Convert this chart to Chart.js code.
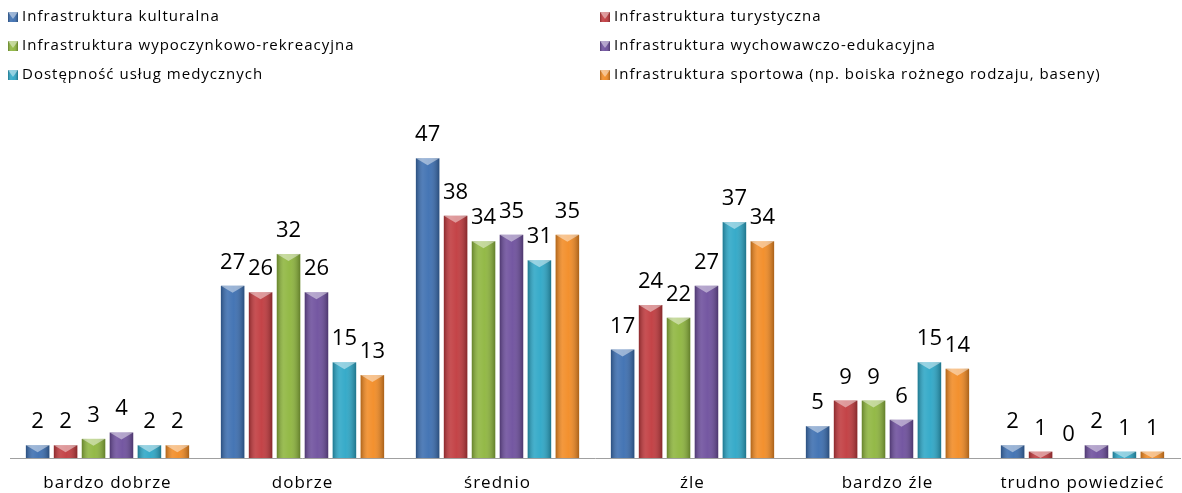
<!DOCTYPE html>
<html lang="pl">
<head>
<meta charset="UTF-8">
<title>Ocena infrastruktury</title>
<style>
html, body { margin: 0; padding: 0; background: #fff; }
#wrap { width: 1182px; height: 493px; }
</style>
</head>
<body>
<div id="wrap"><canvas id="myChart"></canvas></div>

<script src="https://cdn.jsdelivr.net/npm/chart.js"></script>
<script>
const categories = ['bardzo dobrze', 'dobrze', 'średnio', 'źle', 'bardzo źle', 'trudno powiedzieć'];
const seriesNames = [
    'Infrastruktura kulturalna',
    'Infrastruktura turystyczna',
    'Infrastruktura wypoczynkowo-rekreacyjna',
    'Infrastruktura wychowawczo-edukacyjna',
    'Dostępność usług medycznych',
    'Infrastruktura sportowa (np. boiska rożnego rodzaju, baseny)'
];
const kulturalna   = [2, 27, 47, 17, 5, 2];
const turystyczna  = [2, 26, 38, 24, 9, 1];
const wypoczynkowa = [3, 32, 34, 22, 9, 0];
const wychowawcza  = [4, 26, 35, 27, 6, 2];
const medyczne     = [2, 15, 31, 37, 15, 1];
const sportowa     = [2, 13, 35, 34, 14, 1];
const colors = ['#3a6db0', '#c0383c', '#8db53c', '#6c4d9c', '#2ba6c6', '#f28a22'];

const FONT = '"Open Sans", "Noto Sans", sans-serif';

// połysk + trójkątny "ścięty" wierzch słupka
function shade(ctx, x, top, w, h){
    let g = ctx.createLinearGradient(x, 0, x + w, 0);
    g.addColorStop(0, 'rgba(0,0,0,0.28)');
    g.addColorStop(0.3, 'rgba(255,255,255,0.12)');
    g.addColorStop(0.55, 'rgba(255,255,255,0.06)');
    g.addColorStop(1, 'rgba(0,0,0,0.30)');
    ctx.fillStyle = g;
    ctx.fillRect(x, top, w, h);
    let d = Math.min(7, h);
    ctx.beginPath();
    ctx.moveTo(x, top);
    ctx.lineTo(x + w, top);
    ctx.lineTo(x + w / 2, top + d);
    ctx.closePath();
    ctx.fillStyle = 'rgba(255,255,255,0.45)';
    ctx.fill();
}

const bevelPlugin = {
    id: 'bevel',
    beforeDraw(chart){
        chart.ctx.letterSpacing = '1px';
    },
    afterDatasetsDraw(chart){
        const ctx = chart.ctx;
        ctx.save();
        chart.data.datasets.forEach((ds, i) => {
            chart.getDatasetMeta(i).data.forEach(el => {
                const p = el.getProps(['x', 'y', 'base', 'width'], true);
                const h = p.base - p.y;
                if (h <= 0) return;
                shade(ctx, p.x - p.width / 2, p.y, p.width, h);
            });
        });
        // wartości nad słupkami
        ctx.letterSpacing = '0px';
        ctx.fillStyle = '#000';
        ctx.font = '22px ' + FONT;
        ctx.textAlign = 'center';
        ctx.textBaseline = 'alphabetic';
        chart.data.datasets.forEach((ds, i) => {
            chart.getDatasetMeta(i).data.forEach((el, j) => {
                const p = el.getProps(['x', 'y'], true);
                ctx.fillText(String(ds.data[j]), p.x, p.y - 17);
            });
        });
        ctx.restore();
    }
};

const legendPlugin = {
    id: 'legend2col',
    afterDraw(chart){
        const ctx = chart.ctx;
        const colX = [8, 600];
        const rowY = [17, 46, 75];
        ctx.save();
        ctx.letterSpacing = '1px';
        ctx.font = '15px ' + FONT;
        ctx.textBaseline = 'middle';
        ctx.textAlign = 'left';
        chart.data.datasets.forEach((ds, i) => {
            const x = colX[i % 2];
            const y = rowY[Math.floor(i / 2)];
            ctx.fillStyle = ds.backgroundColor;
            ctx.fillRect(x, y - 5, 10, 10);
            shade(ctx, x, y - 5, 10, 10);
            ctx.fillStyle = '#000';
            ctx.fillText(ds.label, x + 14, y);
        });
        ctx.restore();
    }
};

const allSeries = [kulturalna, turystyczna, wypoczynkowa, wychowawcza, medyczne, sportowa];

new Chart(document.getElementById('myChart'), {
    type: 'bar',
    data: {
        labels: categories,
        datasets: allSeries.map((d, i) => ({
            label: seriesNames[i],
            data: d,
            backgroundColor: colors[i],
            borderWidth: 0,
            categoryPercentage: 0.86,
            barPercentage: 0.84
        }))
    },
    options: {
        responsive: true,
        maintainAspectRatio: false,
        animation: false,
        layout: { padding: { top: 120, left: 10, right: 2, bottom: 0 } },
        plugins: {
            legend: { display: false },
            tooltip: { enabled: false }
        },
        scales: {
            x: {
                grid: { display: false, drawTicks: false },
                border: { display: true, color: '#a0a0a0', width: 1 },
                ticks: { color: '#000', font: { family: FONT, size: 17 }, padding: 15 },
                afterFit(scale){ scale.height = 35; }
            },
            y: {
                display: false,
                min: 0,
                max: 53
            }
        }
    },
    plugins: [bevelPlugin, legendPlugin]
});
</script>
</body>
</html>
